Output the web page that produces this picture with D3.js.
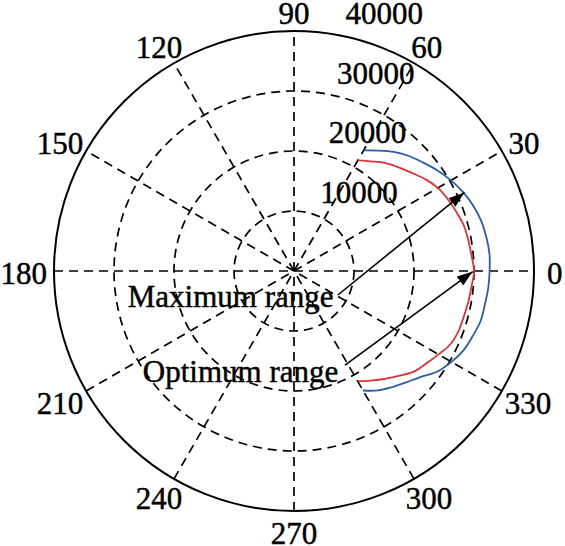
<!DOCTYPE html>
<html>
<head>
<meta charset="utf-8">
<title>Polar range plot</title>
<script src="https://cdnjs.cloudflare.com/ajax/libs/d3/7.8.5/d3.min.js"></script>
<style>
  body { margin: 0; background: #fff; }
  text { font-family: "Liberation Serif", "Times New Roman", serif; font-size: 31px;
         fill: #000; stroke: #000; stroke-width: 0.45px; }
</style>
</head>
<body>
<div id="chart"></div>
<script>
// ---- data ----
var angleTicks = [0, 30, 60, 90, 120, 150, 180, 210, 240, 270, 300, 330];
var ringValues = [10000, 20000, 30000, 40000];
var thetaDeg = [60, 55, 50, 45, 40, 35, 30, 25, 20, 15, 10, 5, 0,
                -5, -10, -15, -20, -25, -30, -35, -40, -45, -50, -55, -60];
// outer (blue) curve
var maxRange = [23200, 24500, 25900, 27100, 28100, 29200, 30200, 31100, 31800, 32300, 32550, 32700, 32600,
                32500, 32300, 32200, 31700, 31200, 30300, 29200, 27500, 26300, 25300, 24300, 23000];
// inner (red) curve
var optRange = [21300, 22300, 23500, 24500, 25500, 26700, 27700, 28300, 28800, 29300, 29500, 29700, 30000,
                29700, 29500, 29300, 29200, 28800, 27800, 26900, 26100, 24700, 23500, 22300, 21200];
// annotations, in range units (x, y)
var annoText = ["Maximum range", "Optimum range"];
var annoTextPos = [[-27700, -6000], [-25200, -18500]];
var arrowFrom = [[7300, -4000], [8500, -15700]];
var arrowTo = [[28400, 13100], [29800, -100]];

var width = 565, height = 546;
var cx = 294, cy = 271, R = 240;
var rmax = 40000;

var svg = d3.select("#chart").append("svg")
    .attr("width", width)
    .attr("height", height);

var r = d3.scaleLinear().domain([0, rmax]).range([0, R]);
var x = d3.scaleLinear().domain([-rmax, rmax]).range([cx - R, cx + R]);
var y = d3.scaleLinear().domain([-rmax, rmax]).range([cy + R, cy - R]);

var rad = function (d) { return d * Math.PI / 180; };

/* grid: dashed rings and spokes */
var g = svg.append("g");

g.selectAll("line.spoke")
    .data(angleTicks.filter(function (a) { return a < 180; }))
    .enter().append("line")
    .attr("class", "spoke")
    .attr("x1", function (a) { return x(-rmax * Math.cos(rad(a))); })
    .attr("y1", function (a) { return y(-rmax * Math.sin(rad(a))); })
    .attr("x2", function (a) { return x(rmax * Math.cos(rad(a))); })
    .attr("y2", function (a) { return y(rmax * Math.sin(rad(a))); })
    .attr("stroke", "#000")
    .attr("stroke-width", 1.7)
    .attr("stroke-dasharray", "9,6");

g.selectAll("circle.ring")
    .data(ringValues)
    .enter().append("circle")
    .attr("class", "ring")
    .attr("cx", cx)
    .attr("cy", cy)
    .attr("r", function (d) { return r(d); })
    .attr("fill", "none")
    .attr("stroke", "#000")
    .attr("stroke-width", function (d) { return d === rmax ? 2 : 1.7; })
    .attr("stroke-dasharray", function (d) { return d === rmax ? null : "9,6"; });

/* radial tick labels, placed along 82 degrees like MATLAB */
var c82 = Math.cos(rad(82)), s82 = Math.sin(rad(82));
g.selectAll("text.rlab")
    .data(ringValues)
    .enter().append("text")
    .attr("class", "rlab")
    .attr("x", function (d) { return cx + r(d) * c82 + 18; })
    .attr("y", function (d) { return cy - r(d) * s82 - 9; })
    .text(function (d) { return d; });

/* angle labels */
g.selectAll("text.alab")
    .data(angleTicks)
    .enter().append("text")
    .attr("class", "alab")
    .attr("text-anchor", "middle")
    .text(function (a) { return a; })
    .each(function (a) {
        var w = this.getComputedTextLength();
        var c = Math.cos(rad(a)), s = Math.sin(rad(a));
        var px = cx + 261 * c + c * (w - 16) * 0.3;
        var py = cy - 260 * s + 2 + 10.5;
        d3.select(this).attr("x", px).attr("y", py);
    });

/* curves */
var line = d3.lineRadial()
    .angle(function (d, i) { return rad(90 - thetaDeg[i]); })
    .radius(function (d) { return r(d); })
    .curve(d3.curveCatmullRom);

var plot = svg.append("g").attr("transform", "translate(" + cx + "," + cy + ")");
plot.append("path")
    .attr("d", line(maxRange))
    .attr("fill", "none")
    .attr("stroke", "#2c5ca8")
    .attr("stroke-width", 1.8);
plot.append("path")
    .attr("d", line(optRange))
    .attr("fill", "none")
    .attr("stroke", "#db3338")
    .attr("stroke-width", 1.8);

/* annotations */
svg.append("defs").append("marker")
    .attr("id", "head")
    .attr("viewBox", "0 0 16 11")
    .attr("refX", 16)
    .attr("refY", 5.5)
    .attr("markerWidth", 16)
    .attr("markerHeight", 11)
    .attr("markerUnits", "userSpaceOnUse")
    .attr("orient", "auto")
    .append("path")
    .attr("d", "M0,0 L16,5.5 L0,11 Z")
    .attr("fill", "#000");

svg.selectAll("line.arrow")
    .data(arrowFrom)
    .enter().append("line")
    .attr("class", "arrow")
    .attr("x1", function (d) { return x(d[0]); })
    .attr("y1", function (d) { return y(d[1]); })
    .attr("x2", function (d, i) { return x(arrowTo[i][0]); })
    .attr("y2", function (d, i) { return y(arrowTo[i][1]); })
    .attr("stroke", "#000")
    .attr("stroke-width", 1.6)
    .attr("marker-end", "url(#head)");

svg.selectAll("text.anno")
    .data(annoText)
    .enter().append("text")
    .attr("class", "anno")
    .attr("x", function (d, i) { return x(annoTextPos[i][0]); })
    .attr("y", function (d, i) { return y(annoTextPos[i][1]); })
    .text(function (d) { return d; });
</script>
</body>
</html>
